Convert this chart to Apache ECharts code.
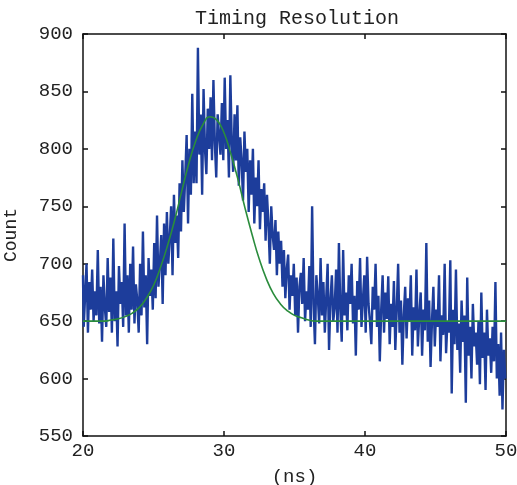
<!DOCTYPE html>
<html>
<head>
<meta charset="utf-8">
<script src="https://cdn.jsdelivr.net/npm/echarts@6/dist/echarts.min.js"></script>
<style>
  html, body { margin: 0; padding: 0; background: #fff; }
  #chart { width: 517px; height: 485px; }
</style>
</head>
<body>
<div id="chart"></div>
<script>
// measured counts, one bin every 0.1 ns from 20.0 to 50.0
const binStart = 20;
const binStep = 0.1;
const counts = [
  690, 645, 672, 700, 640, 684, 660, 695, 650, 676,
  655, 712, 648, 680, 632, 690, 662, 645, 705, 658,
  688, 640, 722, 650, 676, 628, 698, 665, 684, 645,
  735, 655, 690, 640, 700, 660, 715, 648, 682, 668,
  640, 700, 655, 728, 662, 690, 630, 705, 672, 695,
  660, 718, 670, 742, 680, 700, 725, 665, 735, 690,
  745, 700, 722, 750, 690, 760, 718, 742, 705, 770,
  728, 790, 745, 775, 812, 735, 800, 760, 848, 770,
  815, 770, 888, 795, 830, 760, 852, 800, 778, 835,
  800, 845, 790, 860, 805, 775, 830, 812, 795, 840,
  790, 862, 800, 825, 775, 864, 805, 780, 830, 790,
  838, 768, 810, 790, 755, 815, 780, 800, 745, 790,
  760, 800, 735, 775, 750, 790, 730, 765, 745, 770,
  720, 760, 735, 700, 750, 725, 712, 738, 690, 728,
  700, 720, 680, 712, 670, 695, 708, 660, 690, 672,
  700, 655, 688, 640, 680, 692, 665, 705, 650, 676,
  660, 698, 645, 750, 665, 630, 690, 672, 648, 705,
  655, 684, 640, 670, 700, 625, 668, 690, 650, 662,
  695, 640, 718, 660, 632, 712, 655, 675, 642, 690,
  665, 700, 648, 672, 620, 685, 660, 705, 645, 668,
  690, 640, 706, 665, 650, 630, 680, 660, 700, 645,
  672, 615, 660, 690, 640, 675, 652, 689, 630, 665,
  645, 685, 625, 660, 700, 640, 668, 612, 655, 680,
  635, 670, 650, 690, 620, 662, 642, 695, 628, 655,
  675, 620, 660, 642, 718, 632, 668, 610, 650, 680,
  628, 660, 645, 690, 615, 655, 638, 700, 622, 650,
  640, 703, 587, 660, 630, 695, 625, 648, 605, 668,
  632, 655, 579, 688, 620, 645, 600, 665, 628, 640,
  612, 650, 595, 675, 618, 640, 590, 660, 620, 635,
  605, 645, 615, 684, 600, 630, 585, 640, 573, 625,
  600
];

// fitted curve, read every 0.5 ns from 20.0 to 50.0
const fitStart = 20;
const fitStep = 0.5;
const fitCounts = [
  650, 650, 650, 650, 651, 652, 654, 657, 662, 670,
  681, 697, 716, 738, 763, 787, 807, 821, 828, 825,
  814, 795, 773, 748, 725, 704, 687, 674, 665, 659,
  655, 653, 651, 650, 650, 650, 650, 650, 650, 650,
  650, 650, 650, 650, 650, 650, 650, 650, 650, 650,
  650, 650, 650, 650, 650, 650, 650, 650, 650, 650,
  650
];

const xTicks = [20, 30, 40, 50];
const yTicks = [550, 600, 650, 700, 750, 800, 850, 900];

const font = '"Liberation Mono", "DejaVu Sans Mono", monospace';

const histData = counts.map((v, i) => [binStart + i * binStep, v]);
const fitData = fitCounts.map((v, i) => [fitStart + i * fitStep, v]);

const frameLine = { show: true, lineStyle: { color: '#111', width: 1.5 } };
const inTicks = { show: true, inside: true, length: 5, lineStyle: { color: '#111', width: 1.5 } };

const chart = echarts.init(document.getElementById('chart'), null, { renderer: 'canvas' });
chart.setOption({
  animation: false,
  backgroundColor: '#fff',
  title: {
    text: 'Timing Resolution',
    left: 292,
    textAlign: 'center',
    top: 4,
    textStyle: { fontFamily: font, fontSize: 20, fontWeight: 'normal', color: '#222' }
  },
  grid: { left: 83, right: 11, top: 34, bottom: 49, outerBoundsMode: 'none', containLabel: false },
  xAxis: [
    {
      type: 'value', min: 20, max: 50, interval: 10,
      name: '(ns)', nameLocation: 'middle', nameGap: 31,
      nameTextStyle: { fontFamily: font, fontSize: 19, color: '#222' },
      axisLine: frameLine, axisTick: inTicks, splitLine: { show: false },
      axisLabel: { fontFamily: font, fontSize: 19, color: '#222', margin: 5,
        formatter: v => xTicks.includes(v) ? String(v) : '' }
    },
    {
      type: 'value', position: 'top', min: 20, max: 50, interval: 10,
      axisLine: frameLine, axisTick: inTicks, axisLabel: { show: false }, splitLine: { show: false }
    }
  ],
  yAxis: [
    {
      type: 'value', min: 550, max: 900, interval: 50,
      name: 'Count', nameLocation: 'middle', nameGap: 63, nameRotate: 90,
      nameTextStyle: { fontFamily: font, fontSize: 18, color: '#222' },
      axisLine: frameLine, axisTick: inTicks, splitLine: { show: false },
      axisLabel: { fontFamily: font, fontSize: 19, color: '#222', margin: 10,
        formatter: v => yTicks.includes(v) ? String(v) : '' }
    },
    {
      type: 'value', position: 'right', min: 550, max: 900, interval: 50,
      axisLine: frameLine, axisTick: inTicks, axisLabel: { show: false }, splitLine: { show: false }
    }
  ],
  series: [
    {
      type: 'line', data: histData, showSymbol: false, sampling: null, step: 'middle',
      lineStyle: { color: '#1d3d9b', width: 2.4 }, z: 2
    },
    {
      type: 'line', data: fitData, showSymbol: false, smooth: true,
      lineStyle: { color: '#2a8c3c', width: 1.6 }, z: 3
    }
  ]
});
</script>
</body>
</html>
